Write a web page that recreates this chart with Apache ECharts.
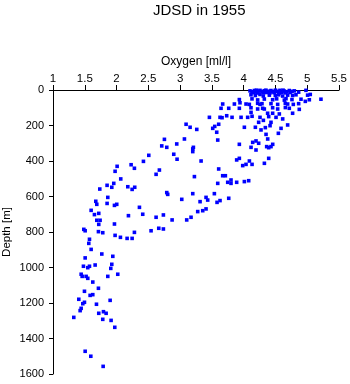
<!DOCTYPE html>
<html>
<head>
<meta charset="utf-8">
<script src="https://cdn.jsdelivr.net/npm/echarts@6/dist/echarts.min.js"></script>
<style>html,body{margin:0;padding:0;background:#fff}#c{width:350px;height:384px}</style>
</head>
<body>
<div id="c"></div>
<script>
const titleText = 'JDSD in 1955';
const xName = 'Oxygen [ml/l]';
const yName = 'Depth [m]';
const xTicks = [1, 1.5, 2, 2.5, 3, 3.5, 4, 4.5, 5, 5.5];
const yTicks = [0, 200, 400, 600, 800, 1000, 1200, 1400, 1600];

// Upper layer (0-300 m)
const upperOxygen = [4.10,4.131,4.168,4.205,4.236,4.257,4.288,4.325,4.362,4.393,4.43,4.456,4.498,4.535,4.571,4.603,4.64,4.676,4.718,4.76,4.797,4.865,4.98,
  4.15,4.22,4.31,4.41,4.48,4.56,4.66,4.73,4.20,4.35,4.50,4.62,
  4.115,4.184,4.257,4.309,4.404,4.498,4.55,4.613,4.692,4.77,4.823,5.006,5.048,
  3.932,4.131,4.22,4.325,4.456,4.519,4.64,4.666,4.76,4.902,5.033,5.216,4.97,
  3.942,4.089,4.22,4.257,4.288,4.43,4.535,4.655,4.692,4.781,4.865,3.67,3.854,4.037,
  3.932,4.115,4.22,4.299,4.325,4.456,4.535,4.718,4.875,3.644,3.765,4.656,
  4.116,4.377,4.456,4.561,4.77,
  3.461,3.628,3.66,3.733,3.817,3.959,4.063,4.132,4.257,4.394,4.509,4.614,
  4.236,4.31,4.43,
  3.094,3.157,3.262,3.513,3.545,3.607,4.011,4.184,4.273,4.341,4.415,4.588,4.692,
  3.576,4.352,4.546,3.068,3.592,4.378,2.753,4.194,4.142];
const upperDepth = [5,10,3,12,6,2,9,4,14,7,3,11,5,8,2,13,6,10,3,8,5,12,2,
  15,17,16,18,15,17,16,14,1,1,1,1,
  27,31,25,34,29,31,27,34,29,31,27,29,25,
  54,50,56,51,55,50,57,49,54,52,55,52,64,
  72,81,75,81,77,77,81,75,79,81,77,79,79,79,
  103,100,107,103,107,100,107,103,109,103,103,99,
  126,131,131,135,131,
  154,154,156,145,154,154,154,148,154,150,154,163,
  182,171,182,
  193,210,222,216,205,193,210,210,225,212,201,216,197,
  238,250,244,276,282,276,278,287,295];

// Middle layer (300-700 m)
const middleOxygen = [4.236,3.932,4.457,3.209,3.199,4.116,4.194,4.362,4.394,4.43,3.199,
  4.394,3.932,3.89,4.09,4.132,4.037,3.985,4.326,3.33,3.607,
  3.67,3.712,3.225,3.592,3.749,3.801,3.801,3.89,4.011,4.079,3.199,3.539,
  2.711,2.79,2.947,2.9,2.952,2.507,2.423,
  2.622,2.674,2.79,2.805,3.026,3.314,3.434,3.408,3.581,3.628,3.765,2.36,2.412,2.737,3.277,3.356,3.408,
  2.229,2.281,2.009,1.977,2.066,1.956,1.851,1.925,1.736,2.177,2.286,2.245,1.862,1.673,1.689,1.851,1.967,2.003,1.6,1.652,1.72];
const middleDepth = [300,306,306,323,332,323,338,319,325,319,347,
  385,385,394,400,419,419,426,413,400,445,
  483,483,488,526,520,507,526,520,516,511,584,584,
  315,323,304,362,390,368,402,
  475,451,578,588,616,629,620,605,633,623,610,661,700,704,685,680,670,
  421,441,430,458,501,526,537,548,558,545,548,560,605,627,644,639,650,644,678,702,695];

// Deep layer (700-1600 m)
const deepOxygen = [2.622,2.874,3.172,3.104,2.664,2.737,2.543,2.187,
  1.689,1.741,1.72,1.967,1.485,1.506,1.715,1.783,1.977,2.061,2.166,2.245,2.281,1.574,1.563,1.6,
  1.768,1.941,1.506,1.479,1.547,1.574,1.663,1.925,1.909,2.019,1.862,1.443,1.459,1.521,1.547,1.626,1.715,
  1.495,1.584,1.626,1.899,1.406,1.495,1.469,1.684,1.443,1.427,1.327,1.72,1.794,1.836,1.783,1.914,1.972,
  1.506,1.595,1.789];
const deepDepth = [717,732,717,732,779,783,793,708,
  734,734,757,755,785,793,798,804,819,830,836,836,802,841,864,898,
  924,937,946,993,1001,993,986,982,1005,1038,1050,1038,1050,1050,1061,1082,1117,
  1134,1157,1153,1185,1179,1196,1204,1207,1230,1243,1281,1258,1249,1258,1292,1298,1337,
  1472,1500,1557];

function pairs(xs, ys) { return xs.map((v, i) => [v, ys[i]]); }

const font = 'Liberation Sans';
const chart = echarts.init(document.getElementById('c'), null, {renderer: 'canvas'});
const mk = (name, xs, ys) => ({
  name, type: 'scatter', data: pairs(xs, ys), symbol: 'rect', symbolSize: 3.6,
  itemStyle: {color: '#0000ff', opacity: 1}, animation: false
});
chart.setOption({
  animation: false,
  backgroundColor: '#fff',
  title: {text: titleText, left: 148, top: -2,
    textStyle: {fontFamily: font, fontWeight: 'normal', fontSize: 15, color: '#000'}},
  grid: {left: 53, right: 11, top: 90, bottom: 10, containLabel: false, outerBoundsMode: 'none'},
  xAxis: {
    type: 'value', position: 'top', min: xTicks[0], max: xTicks[xTicks.length - 1], interval: 0.5,
    name: xName, nameLocation: 'middle', nameGap: 22, nameMoveOverlap: false,
    nameTextStyle: {fontFamily: font, fontSize: 12, color: '#000'},
    axisLine: {show: true, onZero: false, lineStyle: {color: '#000', width: 1}},
    axisTick: {show: true, length: 5, lineStyle: {color: '#000'}},
    axisLabel: {fontFamily: font, fontSize: 11.5, color: '#000', margin: 5},
    splitLine: {show: false}
  },
  yAxis: {
    type: 'value', inverse: true, min: yTicks[0], max: yTicks[yTicks.length - 1], interval: 200,
    name: yName, nameLocation: 'middle', nameGap: 40, nameRotate: 90, nameMoveOverlap: false,
    nameTextStyle: {fontFamily: font, fontSize: 11.5, color: '#000'},
    axisLine: {show: true, onZero: false, lineStyle: {color: '#000', width: 1}},
    axisTick: {show: true, length: 4, lineStyle: {color: '#000'}},
    axisLabel: {fontFamily: '"Liberation Sans Narrow", "Liberation Sans"', fontSize: 11, color: '#000', margin: 9,
      formatter: v => String(v)},
    splitLine: {show: false}
  },
  series: [
    mk('upper', upperOxygen, upperDepth),
    mk('middle', middleOxygen, middleDepth),
    mk('deep', deepOxygen, deepDepth)
  ]
});
</script>
</body>
</html>
